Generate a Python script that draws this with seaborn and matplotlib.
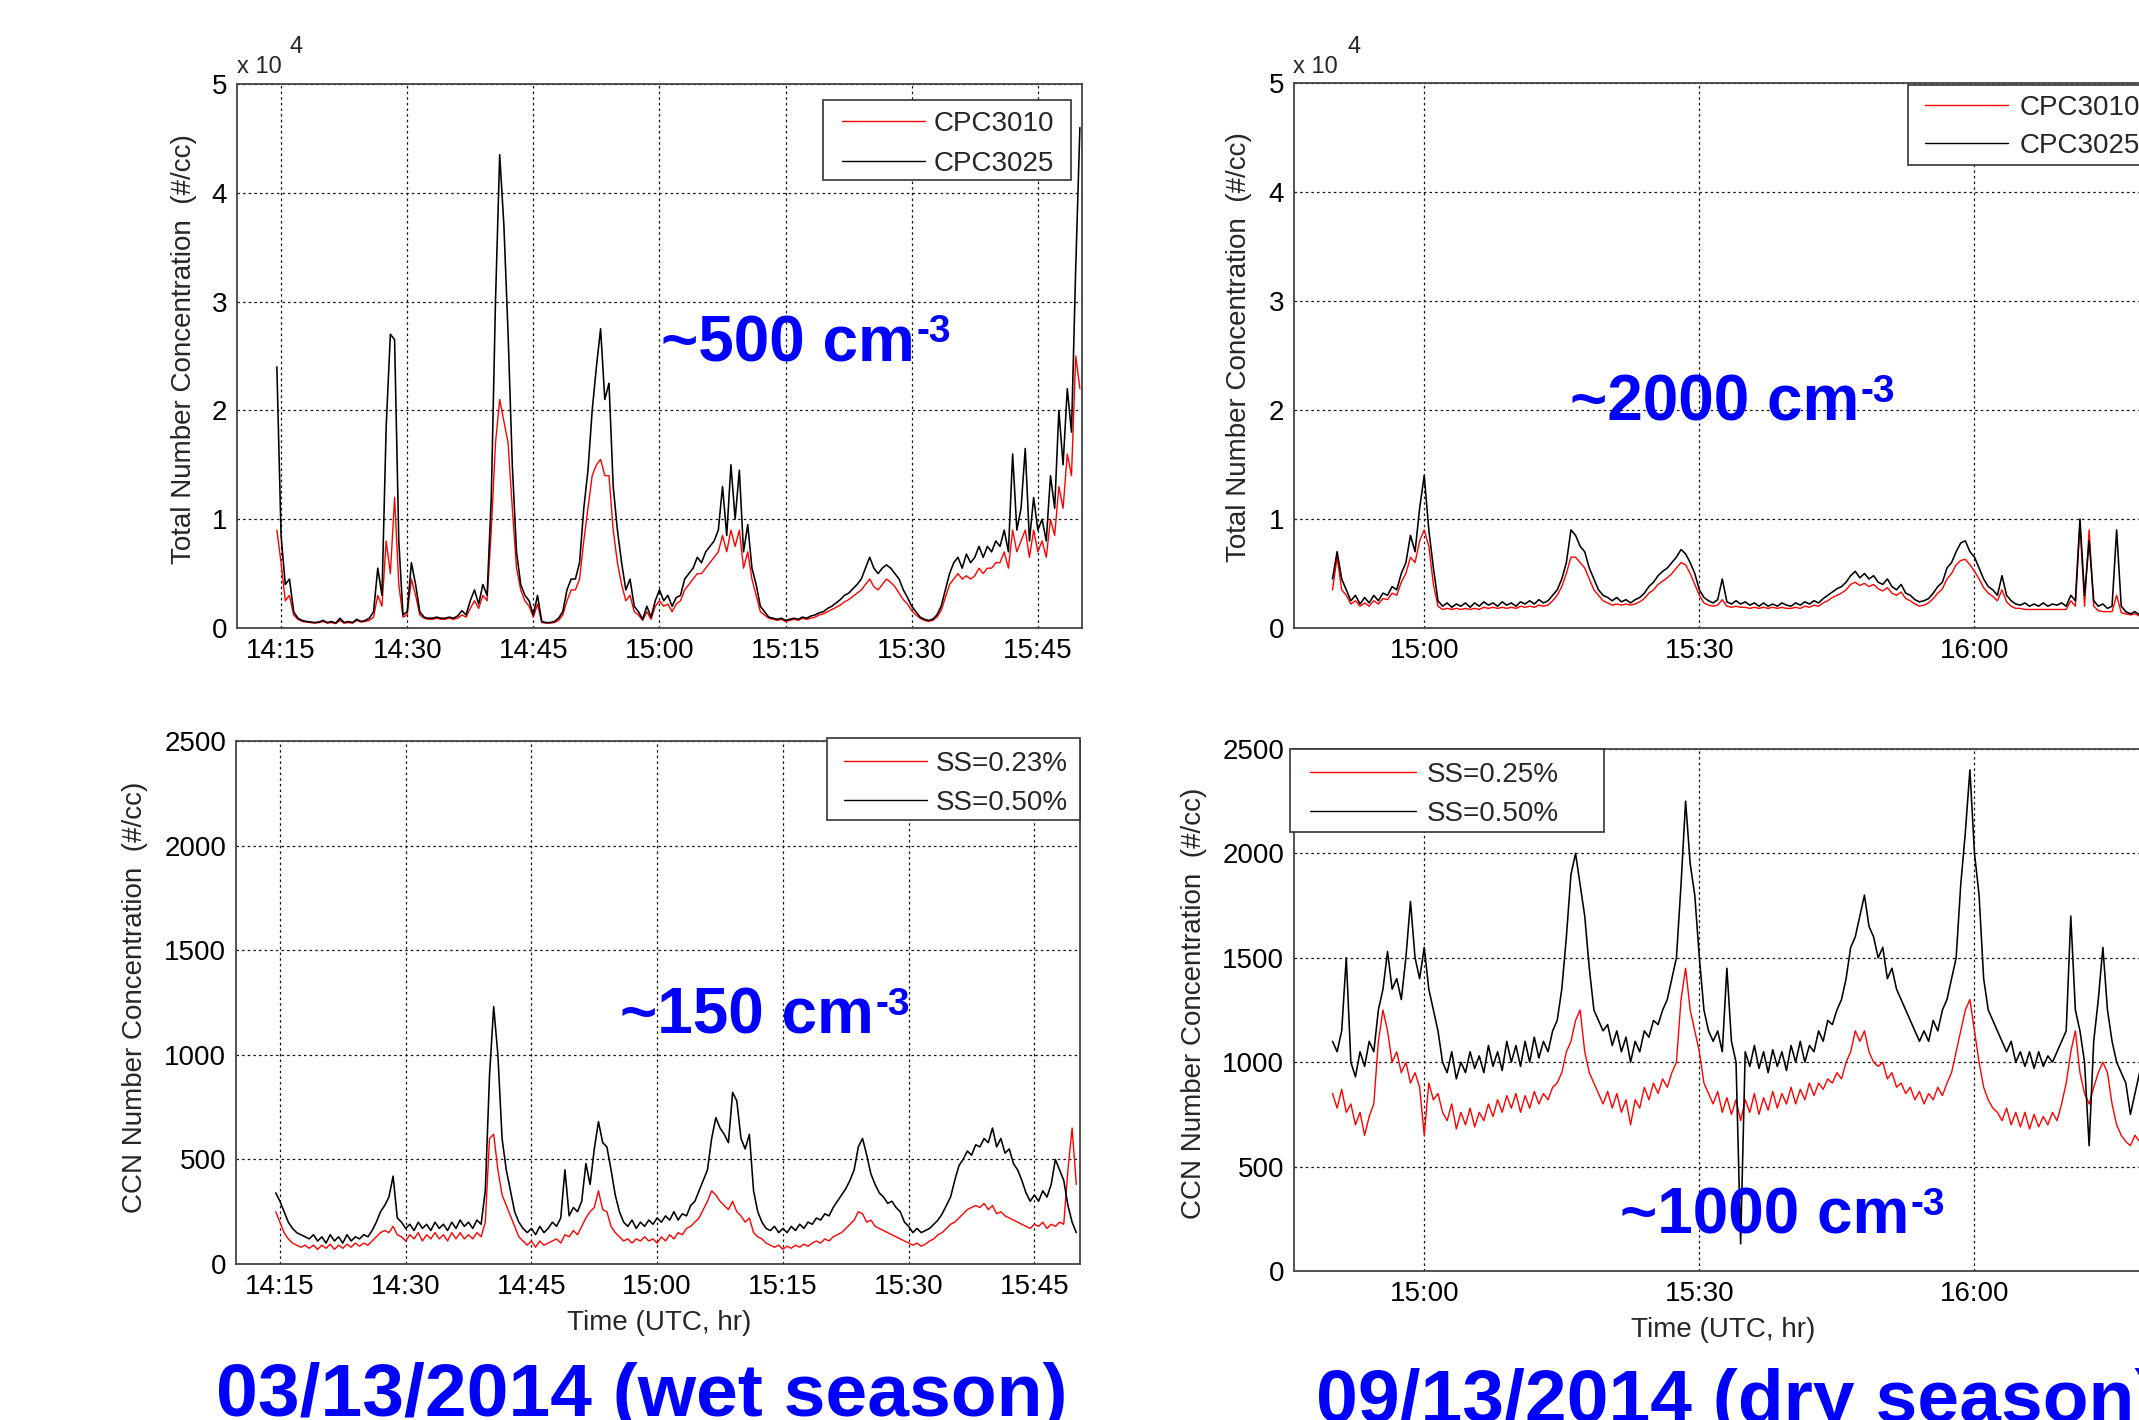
import numpy as np
import matplotlib
matplotlib.use("Agg")
import matplotlib.pyplot as plt
import matplotlib.ticker as mticker
from matplotlib.patches import Rectangle
import seaborn as sns

# sampling: minutes after 14:00 UTC, one reading every 30 s
step = 0.5
wet_start = 14.5
dry_start = 50.0

# 03/13/2014 (wet season), total number concentration (#/cc)
wet_cpc3025 = [
    24000, 8500, 4000, 4500, 1500, 900, 700, 600, 550, 500,
    550, 700, 500, 600, 450, 900, 500, 600, 500, 800,
    600, 700, 900, 1500, 5500, 3000, 18500, 27000, 26500, 8000,
    1200, 1500, 6000, 4000, 1500, 1000, 900, 900, 1000, 900,
    900, 1000, 900, 1100, 1600, 1200, 2500, 3500, 2200, 4000,
    3000, 12000, 30000, 43500, 37000, 27000, 15000, 7000, 4000, 3000,
    2500, 1200, 3000, 600, 500, 500, 600, 900, 1500, 3500,
    4500, 4500, 6000, 11000, 14500, 20000, 24000, 27500, 21000, 22500,
    13000, 9000, 6000, 3500, 4500, 2000, 1500, 800, 2000, 1000,
    2500, 3500, 2500, 3000, 2000, 2800, 3000, 4500, 5000, 5500,
    6500, 6000, 7000, 7500, 8000, 9000, 13000, 8500, 15000, 10000,
    14500, 7000, 9500, 5500, 4000, 2000, 1500, 1000, 900, 800,
    900, 700, 800, 900, 800, 1000, 900, 1100, 1200, 1400,
    1500, 1800, 2000, 2300, 2600, 3000, 3200, 3600, 4000, 4500,
    5500, 6500, 5500, 5000, 5500, 5800, 5500, 5000, 4500, 3500,
    2800, 2000, 1500, 1000, 800, 700, 800, 1200, 2000, 3500,
    5000, 6000, 6500, 5500, 6800, 6000, 6500, 7500, 6500, 7500,
    7000, 8000, 7500, 9000, 7000, 16000, 9000, 11000, 16500, 8000,
    12000, 9000, 10000, 8000, 14000, 11000, 20000, 15000, 22000, 18000,
    33000, 46000,
]
wet_cpc3010 = [
    9000, 6000, 2500, 3000, 1200, 800, 600, 550, 500, 450,
    500, 600, 450, 500, 400, 700, 450, 500, 450, 700,
    550, 600, 700, 1000, 3000, 2000, 8000, 5000, 12000, 4000,
    1000, 1200, 4500, 3000, 1200, 900, 800, 800, 900, 800,
    800, 900, 800, 900, 1200, 1000, 1800, 2500, 1800, 3000,
    2500, 9000, 17000, 21000, 19000, 17000, 11000, 5500, 3500, 2500,
    2000, 1000, 2200, 500, 450, 450, 500, 700, 1200, 2500,
    3500, 3500, 4500, 8000, 11000, 14000, 15000, 15500, 14000, 14000,
    9000, 6000, 4000, 2500, 3000, 1500, 1200, 700, 1500, 800,
    2000, 2500, 2000, 2200, 1500, 2200, 2500, 3500, 4000, 4500,
    5000, 5000, 5500, 6000, 6500, 7000, 8500, 7000, 9000, 7500,
    9000, 5500, 7000, 4500, 3000, 1500, 1200, 900, 800, 700,
    800, 600, 700, 800, 700, 900, 800, 900, 1000, 1200,
    1300, 1500, 1700, 1900, 2100, 2400, 2600, 2900, 3200, 3500,
    4000, 4500, 3800, 3500, 4000, 4500, 4200, 3800, 3200, 2600,
    2200, 1600, 1200, 900, 700, 600, 700, 1000, 1600, 2800,
    4000, 4500, 5000, 4500, 4800, 4500, 4800, 5500, 5000, 5500,
    5500, 6000, 6000, 7000, 5500, 9000, 7000, 8000, 9000, 6500,
    9000, 7000, 8000, 6500, 10000, 8500, 13000, 11000, 16000, 14000,
    25000, 22000,
]

# 03/13/2014, CCN number concentration (#/cc)
wet_ccn_050 = [
    340, 300, 250, 200, 170, 150, 140, 130, 120, 140,
    110, 130, 100, 140, 110, 130, 100, 140, 110, 130,
    120, 140, 130, 160, 200, 250, 280, 320, 420, 220,
    200, 170, 190, 160, 200, 170, 190, 160, 200, 170,
    190, 160, 200, 170, 210, 180, 200, 170, 210, 190,
    350, 900, 1230, 1000, 600, 450, 350, 250, 200, 170,
    150, 170, 140, 180, 150, 170, 200, 180, 220, 450,
    230, 270, 250, 300, 480, 380, 550, 680, 580, 560,
    450, 330, 250, 200, 180, 210, 170, 200, 180, 210,
    190, 220, 200, 230, 210, 250, 210, 240, 230, 280,
    300, 350, 400, 450, 600, 700, 650, 620, 580, 820,
    780, 600, 550, 620, 350, 250, 200, 170, 160, 180,
    150, 170, 150, 180, 160, 190, 170, 200, 190, 220,
    210, 240, 230, 270, 300, 330, 360, 400, 450, 560,
    600, 520, 430, 380, 340, 320, 290, 300, 270, 250,
    200, 180, 150, 170, 150, 160, 170, 190, 210, 240,
    280, 320, 400, 470, 500, 540, 520, 570, 560, 600,
    580, 650, 560, 600, 530, 550, 480, 450, 400, 340,
    300, 330, 300, 350, 320, 380, 500, 450, 400, 280,
    200, 150,
]
wet_ccn_023 = [
    250, 200, 150, 120, 100, 90, 80, 90, 75, 90,
    70, 90, 75, 95, 70, 90, 75, 95, 80, 100,
    85, 100, 90, 110, 130, 150, 160, 150, 180, 140,
    130, 110, 140, 120, 150, 110, 140, 120, 150, 120,
    140, 110, 150, 120, 150, 120, 140, 120, 150, 130,
    200, 600, 620, 450, 330, 280, 230, 180, 130, 110,
    90, 110, 80, 110, 90, 100, 110, 120, 100, 140,
    130, 160, 140, 180, 220, 250, 270, 350, 260, 250,
    180, 150, 130, 110, 120, 100, 120, 110, 130, 110,
    120, 100, 130, 110, 140, 120, 150, 140, 170, 180,
    200, 220, 260, 300, 350, 330, 300, 280, 260, 300,
    250, 230, 200, 220, 150, 130, 120, 100, 90, 80,
    90, 70, 85, 75, 90, 80, 95, 85, 100, 110,
    100, 120, 110, 130, 140, 150, 170, 190, 210, 250,
    240, 200, 210, 180, 170, 160, 150, 140, 130, 120,
    110, 100, 90, 100, 85, 95, 110, 120, 140, 150,
    170, 190, 200, 220, 240, 260, 270, 280, 270, 290,
    260, 280, 240, 250, 230, 220, 210, 200, 190, 180,
    170, 190, 180, 200, 170, 190, 180, 200, 190, 450,
    650, 380,
]

# 09/13/2014 (dry season), total number concentration (#/cc)
dry_cpc3025 = [
    4500, 7000, 4500, 3500, 2500, 3000, 2200, 2800, 2300, 3000,
    2500, 3200, 3000, 3800, 3500, 5000, 6000, 8500, 7000, 11000,
    14000, 9000, 5500, 2500, 2000, 2300, 1900, 2200, 2000, 2300,
    1900, 2300, 2000, 2400, 2100, 2300, 2000, 2400, 2100, 2300,
    2000, 2400, 2200, 2500, 2200, 2600, 2300, 2500, 3000, 3500,
    4500, 6000, 9000, 8500, 7500, 7000, 5500, 4500, 3500, 3000,
    2800, 2500, 2800, 2400, 2600, 2300, 2600, 2800, 3200, 3800,
    4200, 4800, 5200, 5500, 6000, 6500, 7200, 6800, 6000, 5000,
    3500, 2800, 2500, 2300, 2600, 4500, 2400, 2200, 2500, 2200,
    2400, 2100, 2300, 2000, 2300, 2000, 2200, 2000, 2300, 2100,
    2000, 2300, 2100, 2400, 2200, 2500, 2300, 2700, 3000, 3300,
    3600, 3800, 4200, 4800, 5200, 4600, 5000, 4500, 4800, 4200,
    4000, 4500, 3800, 3500, 4000, 3200, 3000, 2600, 2400, 2500,
    2700, 3200, 3800, 4200, 5500, 6000, 7000, 7800, 8000, 7000,
    6500, 5500, 4500, 3800, 3500, 3000, 4800, 3000, 2500, 2200,
    2100, 2300, 2000, 2200, 2000, 2300, 2000, 2200, 2100, 2300,
    2000, 3000, 2500, 10000, 3000, 8000, 2500, 2000, 2200, 1800,
    2000, 9000, 2000, 1500, 1300, 1500, 1200, 1400, 1300, 1500,
    1400, 1500,
]
dry_cpc3010 = [
    3500, 6500, 3500, 3000, 2200, 2500, 2000, 2300, 2000, 2500,
    2200, 2700, 2600, 3200, 3000, 4200, 5000, 6500, 6000, 8000,
    9000, 7500, 4000, 2000, 1700, 1800, 1700, 1800, 1700, 1800,
    1700, 1800, 1700, 1900, 1800, 1900, 1800, 1900, 1800, 1900,
    1800, 2000, 1900, 2000, 1900, 2100, 2000, 2100, 2500, 3000,
    3800, 5000, 6500, 6500, 6000, 5500, 4500, 3500, 3000, 2500,
    2300, 2100, 2200, 2100, 2200, 2100, 2200, 2400, 2700, 3200,
    3500, 4000, 4300, 4600, 5000, 5500, 6000, 5800, 5000, 4000,
    3000, 2300, 2100, 2000, 2100, 2600, 2000, 1900, 2000, 1900,
    1900, 1800, 1900, 1800, 1900, 1800, 1900, 1800, 1900, 1800,
    1800, 1900, 1800, 2000, 1900, 2100, 2000, 2300, 2500, 2800,
    3000, 3200, 3500, 4000, 4200, 3900, 4100, 3800, 4000, 3600,
    3400, 3700, 3200, 3000, 3300, 2700, 2500, 2200, 2000, 2100,
    2300, 2700, 3200, 3600, 4500, 5000, 5800, 6200, 6300, 5800,
    5200, 4500, 3700, 3200, 2900, 2500, 3500, 2400, 2000, 1800,
    1800, 1700, 1700, 1700, 1700, 1700, 1700, 1700, 1700, 1700,
    1700, 2500, 2000, 9500, 2000, 9000, 2000, 1600, 1500, 1500,
    1500, 3000, 1400, 1300, 1200, 1300, 1100, 1200, 1100, 1200,
    1100, 1200,
]

# 09/13/2014, CCN number concentration (#/cc)
dry_ccn_050 = [
    1100, 1050, 1150, 1500, 1000, 930, 1050, 980, 1100, 1050,
    1250, 1350, 1530, 1350, 1400, 1300, 1500, 1770, 1500, 1400,
    1550, 1350, 1250, 1150, 1000, 950, 1050, 920, 1000, 950,
    1050, 970, 1030, 950, 1080, 980, 1050, 960, 1100, 1000,
    1080, 980, 1100, 1000, 1120, 1020, 1100, 1050, 1150, 1200,
    1350, 1600, 1900, 2000, 1850, 1700, 1450, 1250, 1200, 1150,
    1180, 1080, 1150, 1050, 1120, 1000, 1100, 1050, 1150, 1120,
    1200, 1180, 1250, 1300, 1400, 1500, 1850, 2250, 1950, 1800,
    1500, 1250, 1150, 1100, 1150, 1050, 1450, 1100, 1000, 130,
    1050, 980, 1080, 970, 1050, 950, 1060, 980, 1050, 960,
    1080, 1000, 1100, 1000, 1080, 1050, 1150, 1100, 1200, 1180,
    1250, 1300, 1400, 1550, 1600, 1700, 1800, 1650, 1600, 1500,
    1550, 1400, 1450, 1350, 1300, 1250, 1200, 1150, 1100, 1150,
    1100, 1200, 1150, 1250, 1300, 1400, 1500, 1850, 2100, 2400,
    2000, 1800, 1400, 1250, 1200, 1150, 1100, 1050, 1100, 1000,
    1050, 980, 1050, 970, 1050, 980, 1030, 1000, 1050, 1100,
    1150, 1700, 1250, 1150, 1000, 600, 1100, 1300, 1550, 1250,
    1100, 1000, 950, 900, 750, 850, 950, 900, 1000, 950,
    1000, 950,
]
dry_ccn_025 = [
    850, 780, 870, 760, 800, 700, 760, 650, 740, 800,
    1100, 1250, 1150, 1000, 1050, 950, 1000, 900, 950, 880,
    650, 900, 820, 850, 760, 720, 800, 680, 760, 700,
    780, 690, 760, 720, 800, 740, 820, 760, 840, 780,
    850, 760, 840, 780, 860, 800, 850, 820, 880, 900,
    950, 1050, 1100, 1200, 1250, 1050, 950, 900, 850, 800,
    860, 780, 850, 760, 820, 700, 820, 780, 880, 820,
    900, 850, 920, 880, 950, 1000, 1300, 1450, 1250, 1150,
    1050, 900, 850, 800, 860, 760, 830, 750, 820, 720,
    820, 760, 850, 750, 830, 770, 860, 780, 850, 800,
    880, 800, 870, 820, 900, 840, 900, 870, 920, 900,
    950, 920, 1000, 1050, 1150, 1100, 1150, 1050, 1000, 980,
    1000, 920, 950, 880, 900, 850, 880, 820, 860, 800,
    850, 820, 880, 840, 900, 950, 1050, 1150, 1250, 1300,
    1150, 1000, 880, 820, 780, 760, 720, 780, 700, 760,
    690, 760, 680, 750, 690, 740, 700, 760, 720, 800,
    900, 1050, 1150, 950, 850, 800, 880, 950, 1000, 950,
    800, 700, 650, 620, 600, 650, 620, 680, 650, 700,
    680, 700,
]

W, H = 2139, 1420
BLUE = "#0000ff"

sns.set_style("white")
plt.rcParams["font.family"] = ["Liberation Sans", "DejaVu Sans"]


def minutes(start, values):
    return start + step * np.arange(len(values))


def hhmm(t, pos):
    m = int(round(t))
    return f"{14 + m // 60}:{m % 60:02d}"


def panel(rect, start, red, black, labels, xlim, xticks, ylim, yticks):
    ax = fig.add_axes(rect)
    sns.lineplot(x=minutes(start, red), y=red, ax=ax, color="red", lw=1.0,
                 label=labels[0], estimator=None, sort=False)
    sns.lineplot(x=minutes(start, black), y=black, ax=ax, color="black", lw=1.15,
                 label=labels[1], estimator=None, sort=False)
    ax.set_xlim(*xlim)
    ax.set_ylim(*ylim)
    ax.set_xticks(xticks)
    ax.set_yticks(yticks)
    ax.xaxis.set_major_formatter(mticker.FuncFormatter(hhmm))
    ax.grid(True, color="#111111", ls=(0, (2, 2.5)), lw=0.9)
    ax.set_axisbelow(True)
    ax.tick_params(labelsize=20, direction="in", length=5, pad=7, colors="#444444",
                   labelcolor="black")
    for s in ax.spines.values():
        s.set_visible(True)
        s.set_color("#444444")
        s.set_linewidth(1.3)
    return ax


def legend_at(ax, hx, row1, gap, hl, pad, box):
    # legend entries placed from the handle start and first row centre (px),
    # framed by a MATLAB-style box drawn separately
    ls = (gap - 25.3) / 27.8
    leg = ax.legend(loc="upper left", bbox_to_anchor=(hx / W, 1 - (row1 - 10) / H),
                    bbox_transform=fig.transFigure, borderaxespad=0, borderpad=0,
                    frameon=False, fontsize=20, handlelength=hl, handletextpad=pad,
                    labelspacing=ls)
    for h in leg.get_lines():
        h.set_linewidth(1.0)
    x0, y0, x1, y1 = box
    ax.add_patch(Rectangle((x0 / W, 1 - y1 / H), (x1 - x0) / W, (y1 - y0) / H,
                           transform=fig.transFigure, facecolor="white",
                           edgecolor="#333333", lw=1.2, clip_on=False, zorder=4))


fig = plt.figure(figsize=(W / 100, H / 100), dpi=100)

cpc_labels = ["CPC3010", "CPC3025"]
wet_xt = [15, 30, 45, 60, 75, 90, 105]
dry_xt = [60, 90, 120]

ax1 = panel([237 / W, 1 - 628 / H, 845 / W, 544 / H], wet_start, wet_cpc3010, wet_cpc3025,
            cpc_labels, (9.76, 110.25), wet_xt, (0, 50000), [0, 10000, 20000, 30000, 40000, 50000])
ax2 = panel([1294 / W, 1 - 628 / H, 874 / W, 545 / H], dry_start, dry_cpc3010, dry_cpc3025,
            cpc_labels, (45.8, 141.1), dry_xt, (0, 50000), [0, 10000, 20000, 30000, 40000, 50000])
ax3 = panel([236 / W, 1 - 1264 / H, 844 / W, 523 / H], wet_start, wet_ccn_023, wet_ccn_050,
            ["SS=0.23%", "SS=0.50%"], (9.76, 110.44), wet_xt, (0, 2500), [0, 500, 1000, 1500, 2000, 2500])
ax4 = panel([1294 / W, 1 - 1271 / H, 874 / W, 522 / H], dry_start, dry_ccn_025, dry_ccn_050,
            ["SS=0.25%", "SS=0.50%"], (45.8, 141.1), dry_xt, (0, 2500), [0, 500, 1000, 1500, 2000, 2500])

for ax in (ax1, ax2):
    ax.yaxis.set_major_formatter(mticker.FuncFormatter(lambda v, p: f"{v / 1e4:g}"))
    ax.set_ylabel("Total Number Concentration  (#/cc)", fontsize=20, va="center")
for ax in (ax3, ax4):
    ax.set_ylabel("CCN Number Concentration  (#/cc)", fontsize=20, va="center")
    ax.set_xlabel("Time (UTC, hr)", fontsize=20)

ax1.yaxis.set_label_coords((184 - 237) / 845, 0.513)
ax2.yaxis.set_label_coords((1239 - 1294) / 874, 0.516)
ax3.yaxis.set_label_coords((135 - 236) / 844, 0.509)
ax4.yaxis.set_label_coords((1194 - 1294) / 874, 0.513)
ax3.xaxis.set_label_coords((659 - 236) / 844, -(1323 - 1264) / 523)
ax4.xaxis.set_label_coords((1723 - 1294) / 874, -(1330 - 1271) / 522)
ax3.xaxis.label.set_va("center")
ax4.xaxis.label.set_va("center")

legend_at(ax1, 842, 121, 39, 3.0, 0.3, (823, 100, 1071, 180))
legend_at(ax2, 1925, 105, 37, 3.0, 0.4, (1908, 85, 2156, 165))
legend_at(ax3, 844, 761, 38, 3.0, 0.3, (827, 738, 1080, 820))
legend_at(ax4, 1310, 772, 38, 3.8, 0.4, (1290, 749, 1604, 832))

# x 10^4 multipliers
for x0, xs in [(237, 289), (1293, 1347)]:
    fig.text(x0 / W, 1 - 73 / H, "x 10", fontsize=17, va="baseline")
    fig.text(xs / W, 1 - 53 / H, "4", fontsize=17, va="baseline")

# blue annotations, with a small raised "-3"
notes = [
    (ax1, 661, 361, "~500 cm"),
    (ax2, 1570, 421, "~2000 cm"),
    (ax3, 620, 1034, "~150 cm"),
    (ax4, 1620, 1234, "~1000 cm"),
]
for ax, x, y, s in notes:
    t = fig.text(x / W, 1 - y / H, s, fontsize=46, fontweight="bold", color=BLUE,
                 ha="left", va="baseline")
    ax.annotate("-3", xy=(1, 1), xycoords=t, xytext=(1, 0), textcoords="offset points",
                fontsize=28, fontweight="bold", color=BLUE, ha="left", va="top")

fig.text(216 / W, 1 - 1416 / H, "03/13/2014 (wet season)", fontsize=54,
         fontweight="bold", color=BLUE, ha="left", va="baseline")
fig.text(1316 / W, 1 - 1422 / H, "09/13/2014 (dry season)", fontsize=54,
         fontweight="bold", color=BLUE, ha="left", va="baseline")

fig.savefig("out.png", dpi=100)
plt.close(fig)
